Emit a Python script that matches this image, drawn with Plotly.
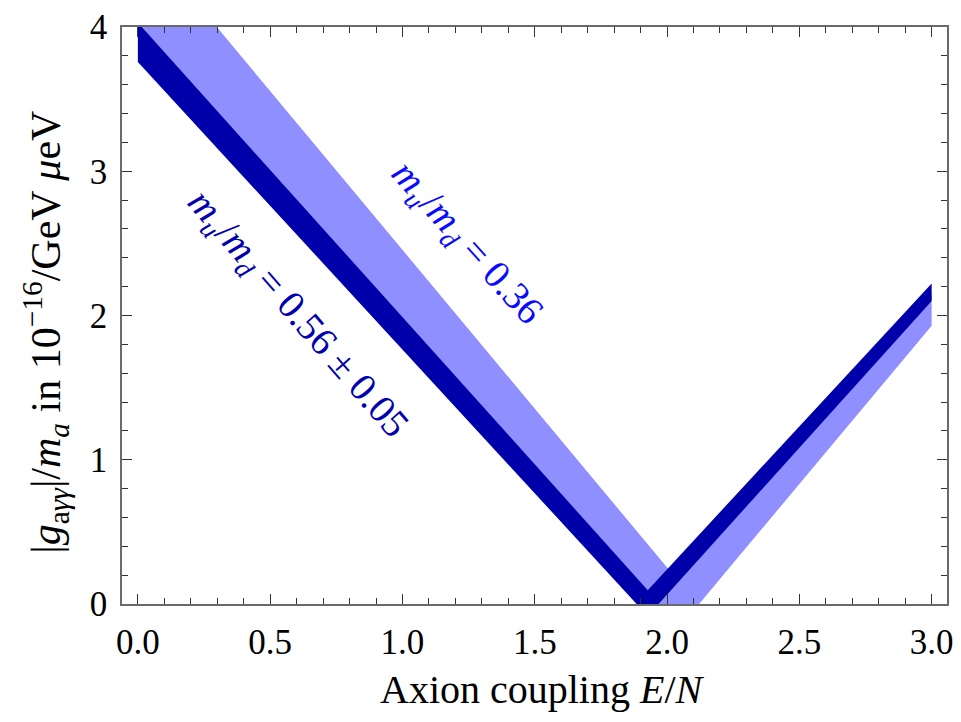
import plotly.graph_objects as go

# Envelope of |g_aγγ|/m_a versus E/N for two choices of m_u/m_d.
# Each band is described by its upper and lower boundary vertices.

# m_u/m_d = 0.56 ± 0.05 (dark band)
dark_upper_x = [0.0, 1.927, 3.0]
dark_upper_y = [4.03, 0.096, 2.222]
dark_lower_x = [0.0, 1.885, 1.968, 3.0]
dark_lower_y = [3.757, 0.0, 0.0, 2.101]

# m_u/m_d = 0.36 (light band)
light_upper_x = [0.0, 2.02, 3.0]
light_upper_y = [4.657, 0.209, 2.15]
light_lower_x = [0.0, 1.93, 2.121, 3.0]
light_lower_y = [3.95, 0.0, 0.0, 1.929]

x_ticks = [0.0, 0.5, 1.0, 1.5, 2.0, 2.5, 3.0]
y_ticks = [0, 1, 2, 3, 4]

DARK = "rgb(0,0,170)"
LIGHT = "rgb(143,143,255)"
FONT = "Liberation Serif, Times New Roman, serif"


def band(ux, uy, lx, ly, color):
    xs = list(ux) + list(reversed(lx))
    ys = list(uy) + list(reversed(ly))
    return go.Scatter(
        x=xs, y=ys, mode="lines", fill="toself", fillcolor=color,
        line=dict(width=0, color=color), hoverinfo="skip", showlegend=False,
    )


fig = go.Figure()
fig.add_trace(band(light_upper_x, light_upper_y, light_lower_x, light_lower_y, LIGHT))
fig.add_trace(band(dark_upper_x, dark_upper_y, dark_lower_x, dark_lower_y, DARK))

axis_common = dict(
    showgrid=False, zeroline=False,
    showline=True, linecolor="#6a6a6a", linewidth=1.5, mirror="ticks",
    ticks="inside", ticklen=10, tickwidth=1.2, tickcolor="#333",
    tickfont=dict(family=FONT, size=35, color="black"),
    ticklabelstandoff=6,
)

fig.update_xaxes(
    range=[-0.06, 3.058], tickvals=x_ticks,
    ticktext=[f"{v:.1f}" for v in x_ticks],
    minor=dict(tick0=0, dtick=0.1, ticks="inside", ticklen=6,
               tickwidth=1.2, tickcolor="#333"),
    **axis_common,
)
fig.update_yaxes(
    range=[0, 4], tickvals=y_ticks, ticktext=[str(v) for v in y_ticks],
    minor=dict(tick0=0, dtick=0.2, ticks="inside", ticklen=6,
               tickwidth=1.2, tickcolor="#333"),
    **axis_common,
)

annotations = [
    dict(x=0.600, y=2.007, xref="x", yref="y", showarrow=False,
         text="<i>m</i><sub><i>u</i></sub>/<i>m</i><sub><i>d</i></sub> = 0.56 \u00b1 0.05",
         textangle=49, font=dict(family=FONT, size=39, color="rgb(0,0,175)")),
    dict(x=1.240, y=2.50, xref="x", yref="y", showarrow=False,
         text="<i>m</i><sub><i>u</i></sub>/<i>m</i><sub><i>d</i></sub> = 0.36",
         textangle=48, font=dict(family=FONT, size=39, color="rgb(10,10,255)")),
    dict(x=0.51, y=-0.148, xref="paper", yref="paper", showarrow=False,
         yanchor="middle", xanchor="center",
         text="Axion coupling <i>E</i>/<i>N</i>",
         font=dict(family=FONT, size=40, color="black")),
    dict(x=-0.0927, y=0.471, xref="paper", yref="paper", showarrow=False,
         xanchor="center", yanchor="middle", textangle=-90,
         text="|<i>g</i><sub>a<i>\u03b3\u03b3</i></sub>|/<i>m</i><sub><i>a</i></sub> in 10<sup>\u221216</sup>/GeV <i>\u03bc</i>eV",
         font=dict(family=FONT, size=42, color="black")),
]

fig.update_layout(
    width=961, height=722,
    margin=dict(l=122, r=8, t=22, b=118),
    paper_bgcolor="white", plot_bgcolor="white",
    annotations=annotations,
)

fig.write_html("out.html")
